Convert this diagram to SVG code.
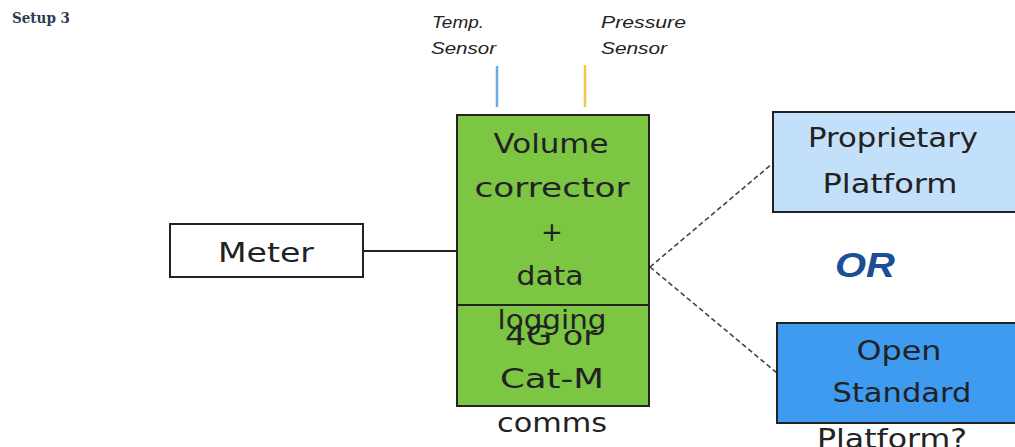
<svg xmlns="http://www.w3.org/2000/svg" width="1015" height="447" viewBox="0 0 1015 447">
<style>
.bt{font-family:"DejaVu Sans","Liberation Sans",sans-serif;font-size:26px;fill:#222;text-anchor:middle}
.sn{font-family:"Liberation Sans","DejaVu Sans",sans-serif;font-style:italic;font-size:16px;fill:#222}
.box{stroke:#222;stroke-width:2}
.dash{stroke:#444;stroke-width:1.6;stroke-dasharray:5 3;fill:none}
</style>
<rect width="1015" height="447" fill="#ffffff"/>
<text x="12" y="23" font-family="DejaVu Serif, Liberation Serif, serif" font-weight="bold" font-size="14" fill="#2f3a55" textLength="58" lengthAdjust="spacingAndGlyphs">Setup 3</text>
<g id="connectors">
<line x1="363" y1="251" x2="457" y2="251" stroke="#222" stroke-width="2"/>
<line x1="497" y1="66" x2="497" y2="107" stroke="#6aa8e8" stroke-width="2.5"/>
<line x1="585" y1="65" x2="585" y2="107" stroke="#f2c84b" stroke-width="2.5"/>
<line class="dash" x1="650" y1="267" x2="773" y2="163"/>
<line class="dash" x1="650" y1="267" x2="777" y2="373"/>
</g>
<g id="temp-sensor">
<text class="sn" x="432" y="28" textLength="52" lengthAdjust="spacingAndGlyphs">Temp.</text>
<text class="sn" x="431" y="54" textLength="65" lengthAdjust="spacingAndGlyphs">Sensor</text>
</g>
<g id="pressure-sensor">
<text class="sn" x="601" y="28" textLength="85" lengthAdjust="spacingAndGlyphs">Pressure</text>
<text class="sn" x="601" y="54" textLength="66" lengthAdjust="spacingAndGlyphs">Sensor</text>
</g>
<g id="meter">
<rect class="box" x="170" y="224" width="193" height="53" fill="#ffffff" stroke-width="1.8"/>
<text class="bt" x="266" y="262" textLength="96" lengthAdjust="spacingAndGlyphs">Meter</text>
</g>
<g id="volume-corrector">
<rect class="box" x="457" y="115" width="192" height="190" fill="#7cc644"/>
<g id="comms">
<rect class="box" x="457" y="305" width="192" height="101" fill="#7cc644" stroke-width="2.5"/>
</g>
<text class="bt" x="551" y="153" textLength="115" lengthAdjust="spacingAndGlyphs">Volume</text>
<text class="bt" x="552" y="197" textLength="155" lengthAdjust="spacingAndGlyphs">corrector</text>
<text class="bt" x="552" y="241">+</text>
<text class="bt" x="550" y="285" textLength="67" lengthAdjust="spacingAndGlyphs">data</text>
<text class="bt" x="552" y="329" textLength="109" lengthAdjust="spacingAndGlyphs">logging</text>
<text class="bt" x="551" y="345" textLength="92" lengthAdjust="spacingAndGlyphs">4G or</text>
<text class="bt" x="552" y="388" textLength="104" lengthAdjust="spacingAndGlyphs">Cat-M</text>
<text class="bt" x="552" y="432" textLength="110" lengthAdjust="spacingAndGlyphs">comms</text>
</g>
<g id="proprietary-platform">
<rect class="box" x="773" y="112" width="260" height="100" fill="#c3e0fa"/>
<text class="bt" x="893" y="147" textLength="170" lengthAdjust="spacingAndGlyphs">Proprietary</text>
<text class="bt" x="890" y="193" textLength="135" lengthAdjust="spacingAndGlyphs">Platform</text>
</g>
<g id="or-label">
<text x="865" y="277" font-family="Liberation Sans, Arial, sans-serif" font-weight="bold" font-style="italic" font-size="35" fill="#1a4f96" text-anchor="middle" textLength="60" lengthAdjust="spacingAndGlyphs">OR</text>
</g>
<g id="open-standard-platform">
<rect class="box" x="777" y="323" width="260" height="100" fill="#3f9bf0"/>
<text class="bt" x="899" y="360" textLength="85" lengthAdjust="spacingAndGlyphs">Open</text>
<text class="bt" x="902" y="402" textLength="139" lengthAdjust="spacingAndGlyphs">Standard</text>
<text class="bt" x="892" y="448" textLength="150" lengthAdjust="spacingAndGlyphs">Platform?</text>
</g>
</svg>
